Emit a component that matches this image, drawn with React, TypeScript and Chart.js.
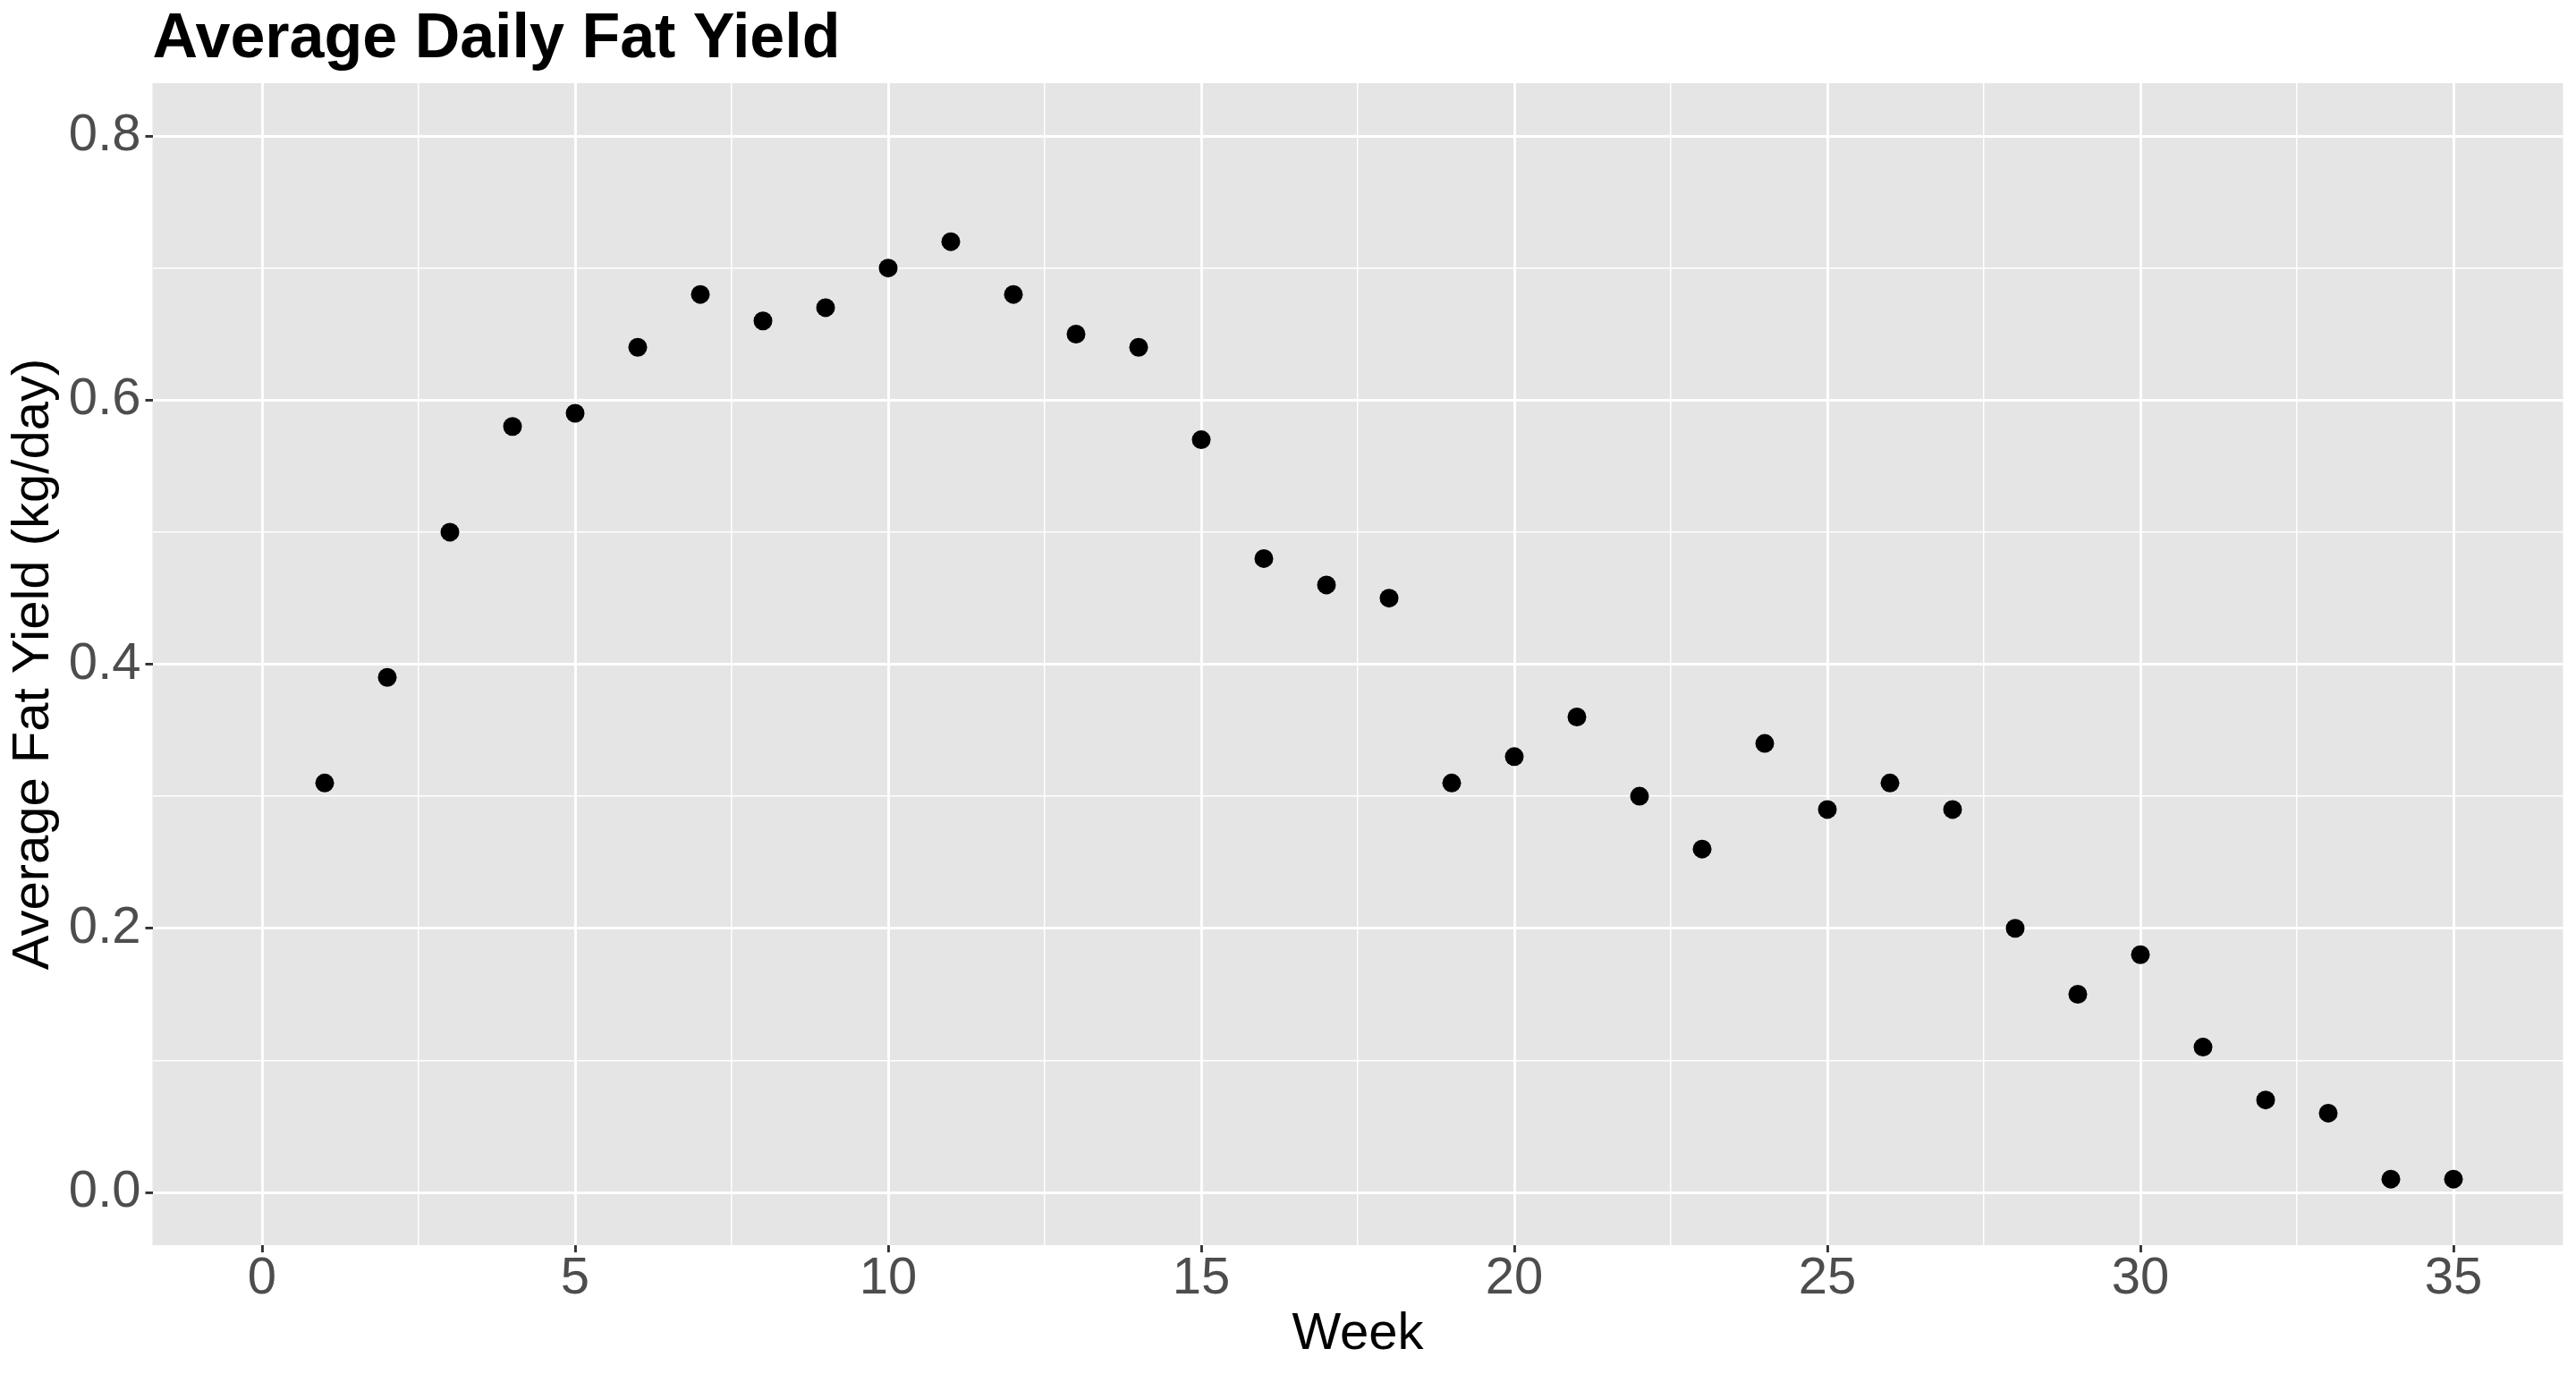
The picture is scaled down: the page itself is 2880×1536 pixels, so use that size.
import { useEffect, useRef } from 'react'
import { Chart, registerables } from 'chart.js'

Chart.register(...registerables)

const FONT = '"Liberation Sans", Arial, sans-serif'

const weeks = [
  1, 2, 3, 4, 5, 6, 7, 8, 9, 10, 11, 12, 13, 14, 15, 16, 17, 18,
  19, 20, 21, 22, 23, 24, 25, 26, 27, 28, 29, 30, 31, 32, 33, 34, 35,
]
const fatYield = [
  0.31, 0.39, 0.5, 0.58, 0.59, 0.64, 0.68, 0.66, 0.67, 0.7, 0.72, 0.68, 0.65, 0.64, 0.57, 0.48, 0.46, 0.45,
  0.31, 0.33, 0.36, 0.3, 0.26, 0.34, 0.29, 0.31, 0.29, 0.2, 0.15, 0.18, 0.11, 0.07, 0.06, 0.01, 0.01,
]

const xMajorTicks = [0, 5, 10, 15, 20, 25, 30, 35]
const xMinorTicks = [2.5, 7.5, 12.5, 17.5, 22.5, 27.5, 32.5]
const yMajorTicks = [0, 0.2, 0.4, 0.6, 0.8]
const yMinorTicks = [0.1, 0.3, 0.5, 0.7]

// ggplot-style grey panel behind the grid
const panelBackground = {
  id: 'panelBackground',
  beforeDraw(chart: Chart) {
    const { ctx, chartArea } = chart
    ctx.save()
    ctx.fillStyle = '#E5E5E5'
    ctx.fillRect(chartArea.left, chartArea.top, chartArea.width, chartArea.height)
    ctx.restore()
  },
}

function gridFor(major: number[]) {
  return {
    drawTicks: true,
    tickLength: 8,
    color: '#FFFFFF',
    lineWidth: (c: any) => (major.includes(c.tick?.value) ? 2.9 : 1.45),
    tickColor: (c: any) => (major.includes(c.tick?.value) ? '#333333' : 'rgba(0,0,0,0)'),
    tickWidth: (c: any) => (major.includes(c.tick?.value) ? 2.9 : 1),
  }
}

export default function App() {
  const chartRef = useRef<HTMLCanvasElement>(null)
  const chartInstance = useRef<Chart | null>(null)

  useEffect(() => {
    document.body.style.margin = '0'
    if (!chartRef.current) return
    if (chartInstance.current) {
      chartInstance.current.destroy()
    }
    const ctx = chartRef.current.getContext('2d')
    if (!ctx) return

    chartInstance.current = new Chart(ctx, {
      type: 'scatter',
      data: {
        datasets: [
          {
            label: 'Fat yield',
            data: weeks.map((w, i) => ({ x: w, y: fatYield[i] })),
            pointRadius: 10.5,
            pointHoverRadius: 10.5,
            backgroundColor: '#000000',
            borderWidth: 0,
          },
        ],
      },
      options: {
        responsive: true,
        maintainAspectRatio: false,
        animation: false,
        events: [],
        layout: {
          padding: { left: 0, right: 14.5, top: 0, bottom: 0 },
        },
        plugins: {
          legend: { display: false },
          tooltip: { enabled: false },
          title: {
            display: true,
            text: 'Average Daily Fat Yield',
            align: 'start',
            fullSize: false,
            color: '#000000',
            font: { family: FONT, size: 70, weight: 'bold', lineHeight: 1.2 },
            padding: { top: 3, bottom: 6 },
          },
        },
        scales: {
          x: {
            type: 'linear',
            min: -1.75,
            max: 36.75,
            border: { display: false },
            grid: gridFor(xMajorTicks),
            afterBuildTicks: (scale: any) => {
              scale.ticks = [...xMajorTicks, ...xMinorTicks]
                .sort((a, b) => a - b)
                .map((v) => ({ value: v }))
            },
            afterFit: (scale: any) => {
              scale.height = 144
            },
            ticks: {
              autoSkip: false,
              maxRotation: 0,
              padding: 1,
              color: '#4D4D4D',
              font: { family: FONT, size: 58, lineHeight: 1 },
              callback: (value: any) => (xMajorTicks.includes(value) ? String(value) : ''),
            },
            title: {
              display: true,
              text: 'Week',
              color: '#000000',
              font: { family: FONT, size: 58 },
              padding: { top: 0, bottom: 9.4 },
            },
          },
          y: {
            type: 'linear',
            min: -0.04,
            max: 0.84,
            border: { display: false },
            grid: gridFor(yMajorTicks),
            afterBuildTicks: (scale: any) => {
              scale.ticks = [...yMajorTicks, ...yMinorTicks]
                .sort((a, b) => a - b)
                .map((v) => ({ value: v }))
            },
            afterFit: (scale: any) => {
              scale.width = 170.5
            },
            ticks: {
              autoSkip: false,
              padding: 5,
              color: '#4D4D4D',
              font: { family: FONT, size: 58 },
              callback: (value: any) => (yMajorTicks.includes(value) ? Number(value).toFixed(1) : ''),
            },
            title: {
              display: true,
              text: 'Average Fat Yield (kg/day)',
              color: '#000000',
              font: { family: FONT, size: 58 },
              padding: { top: 3, bottom: 0 },
            },
          },
        },
      },
      plugins: [panelBackground],
    })

    return () => {
      if (chartInstance.current) {
        chartInstance.current.destroy()
        chartInstance.current = null
      }
    }
  }, [])

  return (
    <div style={{ position: 'absolute', left: 0, top: 0, width: 2880, height: 1536 }}>
      <canvas ref={chartRef} />
    </div>
  )
}
